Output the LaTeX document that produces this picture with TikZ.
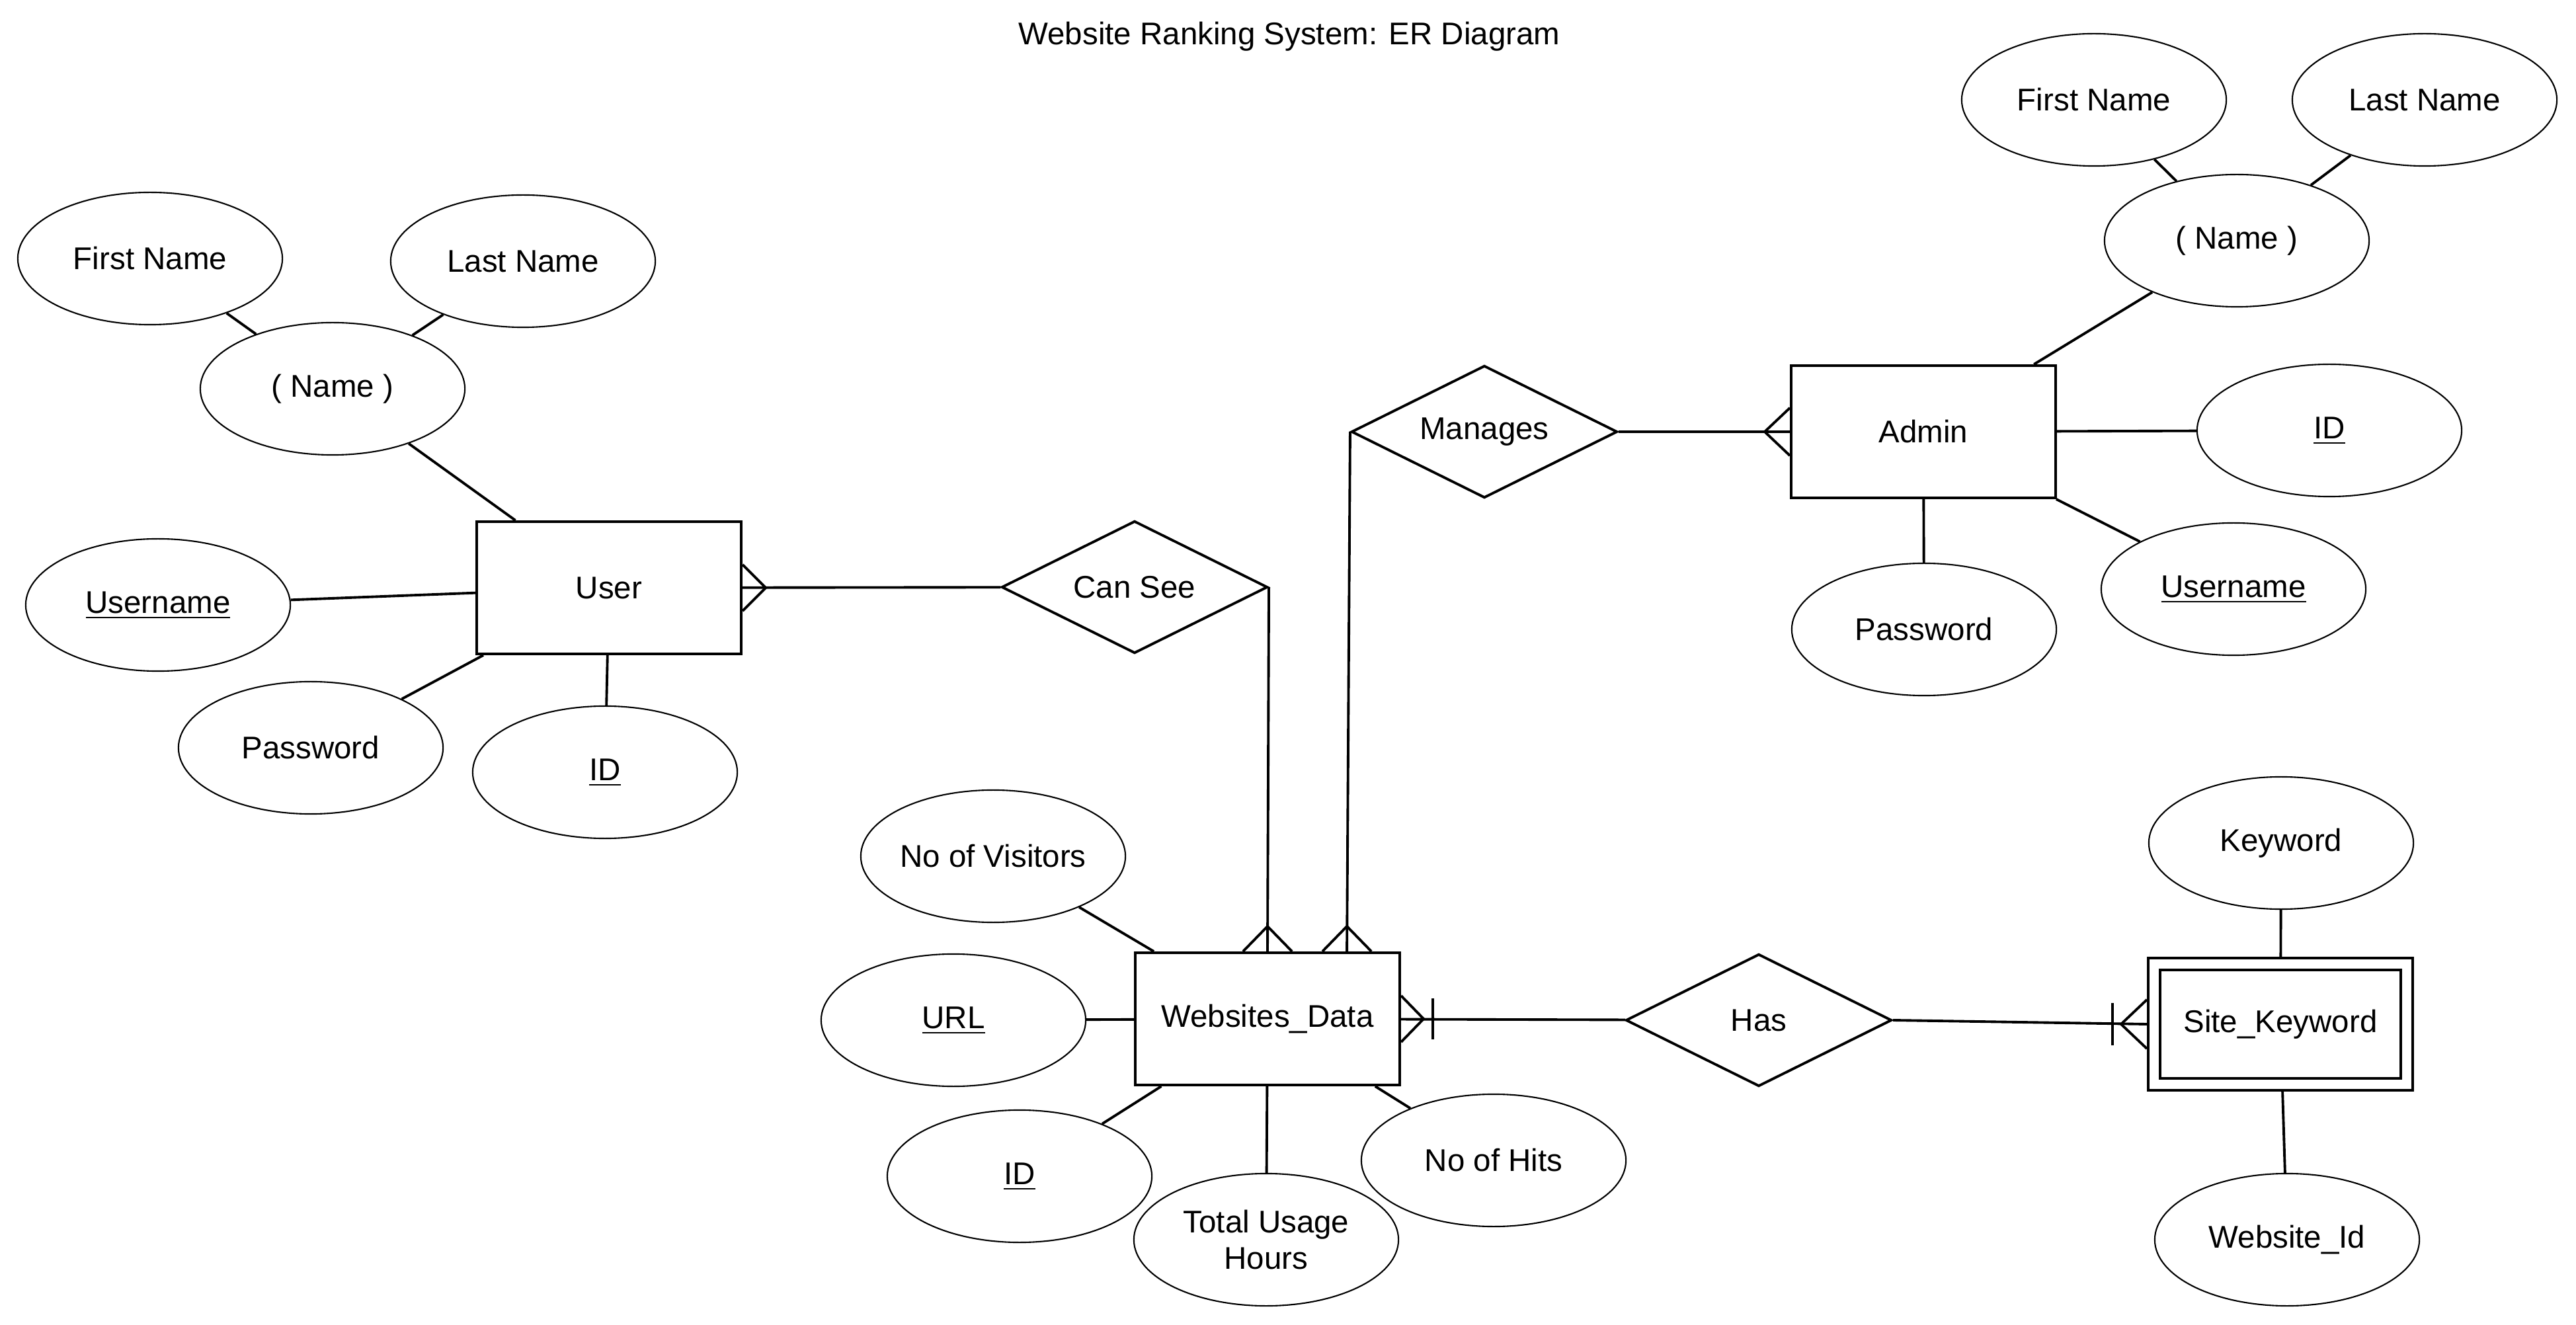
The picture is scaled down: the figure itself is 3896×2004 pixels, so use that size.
\documentclass[tikz,border=0pt]{standalone}
\usepackage{fontspec}
\setmainfont{Liberation Sans}
\usetikzlibrary{shapes.geometric}
\newcommand\keyul[1]{\setbox0\hbox{#1}\rlap{\rule[-2.2pt]{\wd0}{0.75pt}}\box0}
\begin{document}
\begin{tikzpicture}[x=0.01cm,y=-0.01cm,font=\fontsize{13.5}{15.6}\selectfont]
 \tikzset{attr/.style={draw, ellipse, line width=0.6pt, minimum width=4cm, minimum height=2cm, inner sep=0pt, align=center},
  entity/.style={draw, rectangle, line width=1.1pt, minimum width=4cm, minimum height=2cm},
  rel/.style={draw, diamond, aspect=2, line width=1.1pt, minimum width=4.02cm, minimum height=2cm, inner sep=0pt},
  link/.style={line width=1.1pt}}
  \useasboundingbox (0,0) rectangle (3896,2004);
  \node[] (T) at (1950,55) {Website Ranking System: ER Diagram};
  \node[entity] (E1) at (921,889) {User};
  \node[entity] (E2) at (2909,653) {Admin};
  \node[entity] (E3) at (1917,1541) {Websites\_Data};
  \node[entity] (E4) at (3449,1549) {Site\_Keyword};
  \node[rel] (R1) at (1716,888) {Can See};
  \node[rel] (R2) at (2245,653) {Manages};
  \node[rel] (R3) at (2660,1543) {Has};
  \node[attr] (U1) at (227,391) {First Name};
  \node[attr] (U2) at (791,395) {Last Name};
  \node[attr] (U3) at (503,588) {( Name )};
  \node[attr] (U4) at (239,915) {\keyul{Username}};
  \node[attr] (U5) at (470,1131) {Password};
  \node[attr] (U6) at (915,1168) {\keyul{ID}};
  \node[attr] (A1) at (3167,151) {First Name};
  \node[attr] (A2) at (3667,151) {Last Name};
  \node[attr] (A3) at (3383,364) {( Name )};
  \node[attr] (A4) at (3523,651) {\keyul{ID}};
  \node[attr] (A5) at (3378,891) {\keyul{Username}};
  \node[attr] (A6) at (2910,952) {Password};
  \node[attr] (W1) at (1502,1295) {No of Visitors};
  \node[attr] (W2) at (1442,1543) {\keyul{URL}};
  \node[attr] (W3) at (1542,1779) {\keyul{ID}};
  \node[attr] (W4) at (1915,1875) {Total Usage\\Hours};
  \node[attr] (W5) at (2259,1755) {No of Hits};
  \node[attr] (K1) at (3450,1275) {Keyword};
  \node[attr] (K2) at (3459,1875) {Website\_Id};
  \coordinate (M1) at ([xshift=1.2cm]E3.north);
  \draw[link] (U1) -- (U3);
  \draw[link] (U2) -- (U3);
  \draw[link] (U3) -- (E1);
  \draw[link] (U4) -- (E1);
  \draw[link] (U5) -- (E1);
  \draw[link] (U6) -- (E1);
  \draw[link] (A1) -- (A3);
  \draw[link] (A2) -- (A3);
  \draw[link] (A3) -- (E2);
  \draw[link] (A4) -- (E2);
  \draw[link] (A5) -- (E2);
  \draw[link] (A6) -- (E2);
  \draw[link] (W1) -- (E3);
  \draw[link] (W2) -- (E3);
  \draw[link] (W3) -- (E3);
  \draw[link] (W4) -- (E3);
  \draw[link] (W5) -- (E3);
  \draw[link] (K1) -- (E4);
  \draw[link] (K2) -- (E4);
  \draw[link] (E1) -- (R1);
  \draw[link] (R1.east) -- (E3.north);
  \draw[link] (R2.west) -- (M1);
  \draw[link] (R2) -- (E2);
  \draw[link] (E3) -- (R3);
  \draw[link] (R3.east) -- (E4.west);
  \draw[link] ([shift={(0.2cm,-0.2cm)}]E4.north west) rectangle ([shift={(-0.2cm,0.2cm)}]E4.south east);
  \draw[link] ([yshift=0.35cm]E1.east) -- ([xshift=0.35cm]E1.east) -- ([yshift=-0.35cm]E1.east);
  \draw[link] ([yshift=0.36cm]E2.west) -- ([xshift=-0.38cm]E2.west) -- ([yshift=-0.36cm]E2.west);
  \draw[link] ([xshift=-0.37cm]E3.north) -- ([yshift=0.38cm]E3.north) -- ([xshift=0.37cm]E3.north);
  \draw[link] ([xshift=-0.37cm]M1) -- ([yshift=0.38cm]M1) -- ([xshift=0.37cm]M1);
  \draw[link] ([yshift=0.35cm]E3.east) -- ([xshift=0.34cm]E3.east) -- ([yshift=-0.35cm]E3.east);
  \draw[link] ([shift={(0.48cm,0.31cm)}]E3.east) -- ([shift={(0.48cm,-0.31cm)}]E3.east);
  \draw[link] ([yshift=0.37cm]E4.west) -- ([xshift=-0.39cm]E4.west) -- ([yshift=-0.37cm]E4.west);
  \draw[link] ([shift={(-0.52cm,0.32cm)}]E4.west) -- ([shift={(-0.52cm,-0.32cm)}]E4.west);
\end{tikzpicture}
\end{document}
